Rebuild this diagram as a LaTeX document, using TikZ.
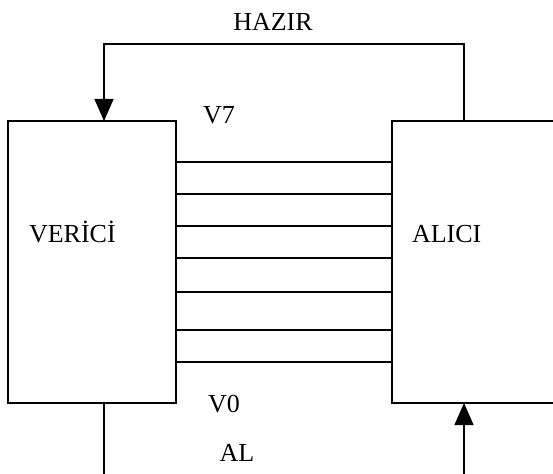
\documentclass[tikz,border=0pt]{standalone}
\usepackage{fontspec}
\setmainfont{Liberation Serif}
\usetikzlibrary{arrows.meta}
\begin{document}
\begin{tikzpicture}[x=1pt,y=-1pt,
  lw/.style={line width=1.3pt},
  blk/.style={draw,lw,rectangle,inner sep=0,outer sep=0},
  lbl/.style={inner sep=0,outer sep=0,font=\fontsize{26}{30}\selectfont},
  arr/.style={lw,-{Triangle[length=22pt,width=19pt]}},
  wire/.style={lw}]
\clip (0,0) rectangle (553,473);
\useasboundingbox (0,0) rectangle (553,473);
\fill[white] (0,0) rectangle (553,473);
\node[blk,minimum width=168pt,minimum height=282pt] (vrc) at (92,262) {};
\node[blk,minimum width=328pt,minimum height=282pt] (alc) at (556,262) {};
\node[lbl,anchor=base west] (tv) at (29,242) {VERİCİ};
\node[lbl,anchor=base west] (ta) at (412,242) {ALICI};
\node[lbl,anchor=base] (th) at (273,30.5) {HAZIR};
\node[lbl,anchor=base] (t7) at (219,124) {V7};
\node[lbl,anchor=base] (t0) at (224,412) {V0};
\node[lbl,anchor=base] (tal) at (237,461) {AL};
\foreach \yy in {162,194,226,258,292,330,362}
  \draw[wire] (vrc.east |- 0,\yy) -- (alc.west |- 0,\yy);
\coordinate (hr) at (464,44);
\coordinate (hl) at (104,44);
\draw[arr] (alc.north -| hr) -- (hr) -- (hl) -- (vrc.north -| hl);
\coordinate (bl) at (104,480);
\coordinate (br) at (464,480);
\draw[wire] (vrc.south -| bl) -- (bl);
\draw[arr] (br) -- (alc.south -| br);
\end{tikzpicture}
\end{document}
